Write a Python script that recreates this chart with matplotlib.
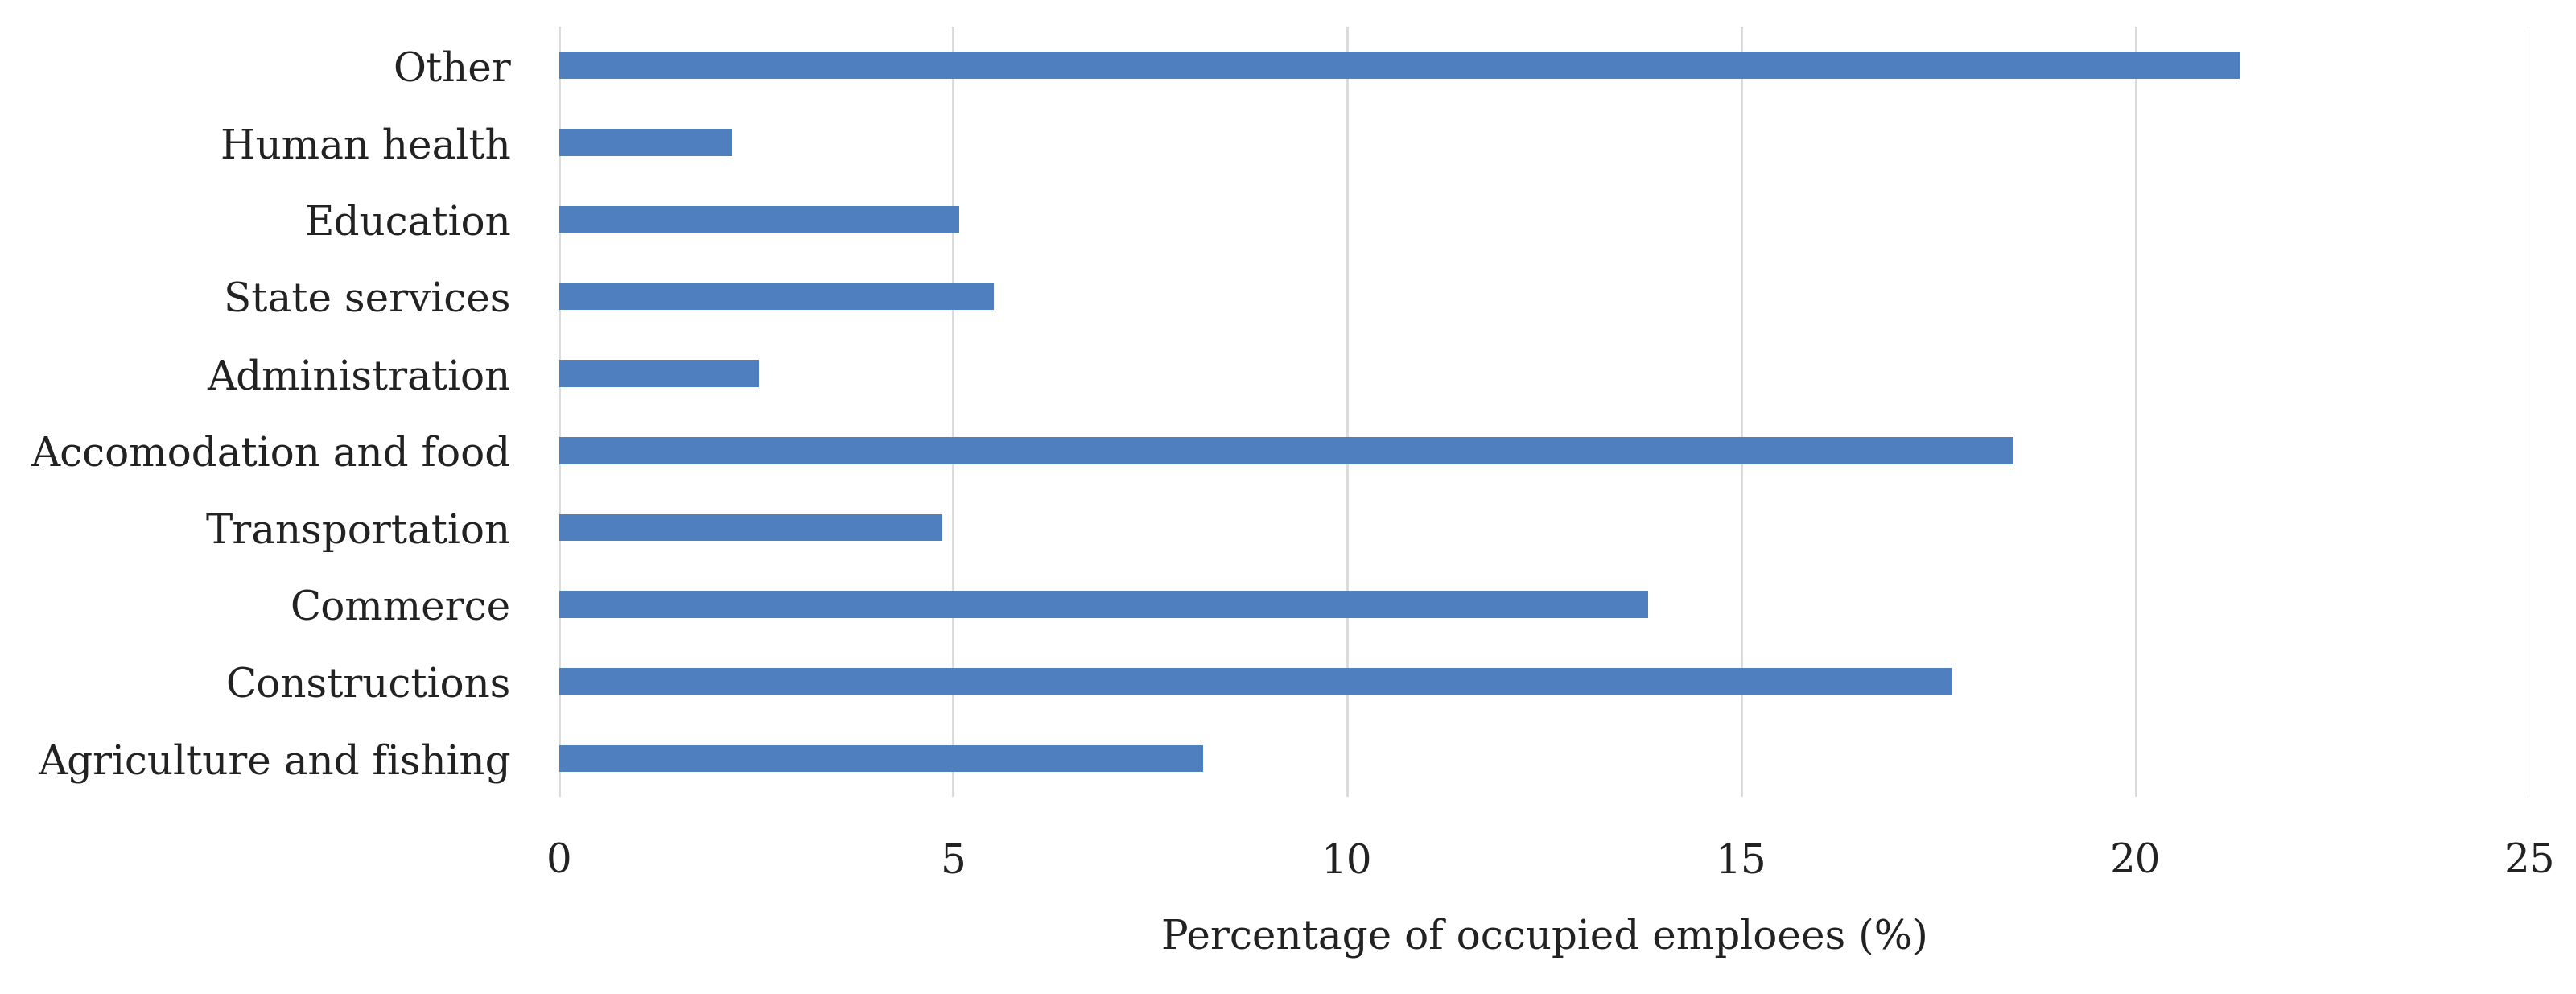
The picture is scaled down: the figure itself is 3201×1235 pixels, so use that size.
import matplotlib
matplotlib.use("Agg")
import matplotlib.pyplot as plt

categories = ["Agriculture and fishing", "Constructions", "Commerce", "Transportation",
              "Accomodation and food", "Administration", "State services", "Education",
              "Human health", "Other"]
values = [8.17, 17.67, 13.82, 4.86, 18.45, 2.54, 5.52, 5.08, 2.20, 21.32]
xticks = [0, 5, 10, 15, 20, 25]
xlabel = "Percentage of occupied emploees (%)"

plt.rcParams['font.family'] = ['DejaVu Serif']

fig = plt.figure(figsize=(32.01, 12.35), dpi=100)
ax = fig.add_axes([0.217, 0.198, 0.765, 0.775])

ypos = list(range(len(categories)))
ax.barh(ypos, values, height=0.35, color='#4F7FBE', zorder=3)
ax.set_xlim(0, 25)
ax.set_ylim(-0.5, len(categories) - 0.5)
ax.set_yticks(ypos)
ax.set_yticklabels(categories, fontsize=36, color='#222222')
ax.set_xticks(xticks)
ax.set_xticklabels([str(t) for t in xticks], fontsize=36, color='#222222')
ax.tick_params(axis='both', length=0)
ax.tick_params(axis='y', pad=43)
ax.tick_params(axis='x', pad=40)
ax.grid(axis='x', color='#D9D9D9', linewidth=2, zorder=0)
ax.grid(axis='y', visible=False)
for s in ax.spines.values():
    s.set_visible(False)
ax.set_xlabel(xlabel, fontsize=36, color='#222222', labelpad=32)

fig.savefig("out.png", dpi=100, facecolor='white')
